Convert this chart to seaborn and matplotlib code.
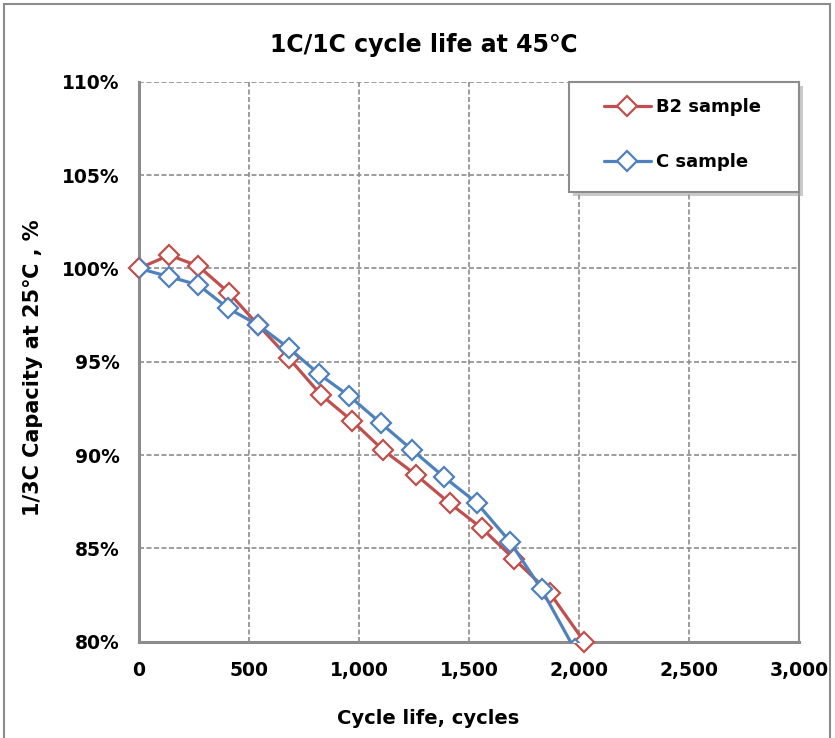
import matplotlib
matplotlib.use("Agg")
import matplotlib.pyplot as plt
import numpy as np
import pandas as pd
import seaborn as sns
from matplotlib.patches import Rectangle

# ---- data ----
series_names = ["B2 sample", "C sample"]
b2_cycles = [0, 138, 270, 409, 542, 682, 826, 968, 1109, 1260, 1413, 1558, 1706, 1868, 2024]
b2_capacity = [100.0, 100.71, 100.12, 98.69, 96.96, 95.18, 93.24, 91.84, 90.27, 88.93,
               87.41, 86.08, 84.42, 82.6, 80.0]
c_cycles = [0, 138, 270, 405, 542, 682, 818, 956, 1100, 1242, 1388, 1535, 1686, 1830, 1980]
c_capacity = [100.0, 99.55, 99.11, 97.86, 96.96, 95.72, 94.34, 93.16, 91.70, 90.27,
              88.81, 87.44, 85.36, 82.8, 79.6]
x_ticks = [0, 500, 1000, 1500, 2000, 2500, 3000]
y_ticks = [80, 85, 90, 95, 100, 105, 110]

title = "1C/1C cycle life at 45\u2103"
x_label = "Cycle life, cycles"
y_label = "1/3C Capacity at 25\u2103 , %"

colors = {"B2 sample": "#C0504D", "C sample": "#4F81BD"}

df = pd.concat([
    pd.DataFrame({"cycles": b2_cycles, "capacity": b2_capacity, "series": series_names[0]}),
    pd.DataFrame({"cycles": c_cycles, "capacity": c_capacity, "series": series_names[1]}),
], ignore_index=True)

sns.set_theme(style="white")
plt.rcParams["font.family"] = ["DejaVu Sans"]
plt.rcParams["text.color"] = "black"

W, H = 835, 738
fig = plt.figure(figsize=(W / 100, H / 100), dpi=100)
ax = fig.add_axes([139 / W, 1 - 641.7 / H, 660 / W, 560 / H])

sns.lineplot(data=df, x="cycles", y="capacity", hue="series", style="series",
             markers={"B2 sample": "D", "C sample": "D"}, dashes=False,
             palette=colors, sort=False, estimator=None, linewidth=2.3,
             markersize=10, markeredgewidth=1.6, markerfacecolor="white",
             legend=False, ax=ax)

for line in ax.lines:
    line.set_markeredgecolor(line.get_color())
    line.set_markerfacecolor("white")
ax.lines[0].set_clip_on(False)
ax.lines[0].set_zorder(3)
ax.lines[1].set_zorder(4)

ax.set_xlim(0, 3000)
ax.set_ylim(80, 110)
ax.set_xticks(x_ticks)
ax.set_xticklabels([f"{v:,}" for v in x_ticks])
ax.set_yticks(y_ticks)
ax.set_yticklabels([f"{v}%" for v in y_ticks])
for lab in ax.get_xticklabels() + ax.get_yticklabels():
    lab.set_fontweight("bold")
    lab.set_fontsize(13.5)
    lab.set_color("black")
ax.tick_params(axis="both", direction="in", length=5, width=1.5, color="#8c8c8c")
ax.tick_params(axis="x", pad=14)
ax.tick_params(axis="y", pad=14)

ax.grid(True, color="#8c8c8c", linestyle=(0, (3, 1.5)), linewidth=1.2)
ax.set_axisbelow(True)
for side in ["left", "bottom"]:
    ax.spines[side].set_color("#8c8c8c")
    ax.spines[side].set_linewidth(2.2)
ax.spines["right"].set_color("#8c8c8c")
ax.spines["right"].set_linewidth(1.5)
ax.spines["top"].set_visible(False)
ax.set_xlabel("")
ax.set_ylabel("")

# legend box with a soft shadow
bx0, by0 = (569 - 139) / 660, (641.7 - 192) / 560
bw, bh = (799 - 569) / 660, (192 - 82) / 560
ax.add_patch(Rectangle((bx0 + 4 / 660, by0 - 4 / 560), bw, bh, transform=ax.transAxes,
                       facecolor="#a0a0a0", edgecolor="none", alpha=0.55,
                       zorder=8, clip_on=False))
ax.add_patch(Rectangle((bx0, by0), bw, bh, transform=ax.transAxes,
                       facecolor="white", edgecolor="#8c8c8c", linewidth=1.5,
                       zorder=9, clip_on=False))
leg = ax.legend(ax.lines[:2], series_names, loc="upper left",
                bbox_to_anchor=((604 - 139) / 660, (641.7 - 98) / 560),
                prop={"weight": "bold", "size": 13}, frameon=False,
                borderpad=0, labelspacing=2.05, handlelength=2.6,
                handletextpad=0.3, borderaxespad=0)
leg.set_zorder(10)
for t in leg.get_texts():
    t.set_color("black")

fig.text(424 / W, 1 - 45 / H, title, ha="center", va="center",
         fontsize=17, fontweight="bold", color="black")
fig.text(428 / W, 1 - 718 / H, x_label, ha="center", va="center",
         fontsize=14, fontweight="bold", color="black")
fig.text(33 / W, 1 - 368 / H, y_label, ha="center", va="center", rotation=90,
         fontsize=15, fontweight="bold", color="black")

fig.patches.append(Rectangle((4 / W, -0.02), 826 / W, 1 - 4 / H + 0.02,
                             transform=fig.transFigure, fill=False,
                             edgecolor="#8c8c8c", linewidth=1.5))

fig.savefig("out.png", dpi=100)
